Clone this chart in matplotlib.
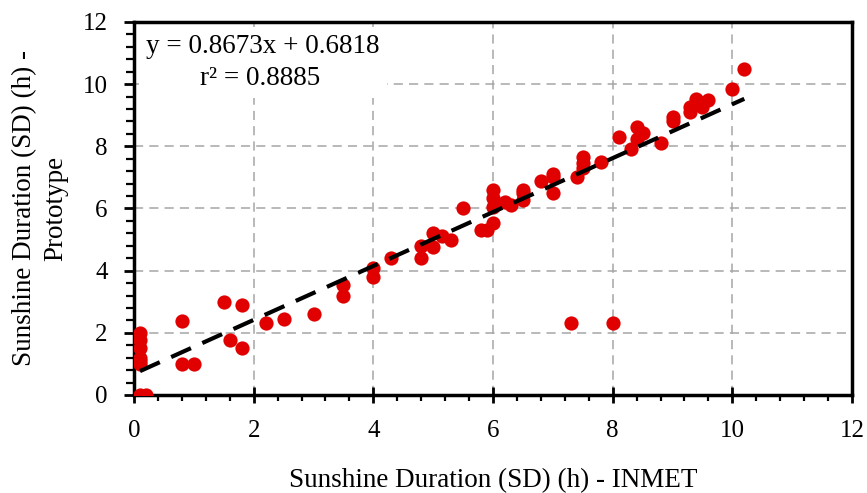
import numpy as np
import matplotlib.pyplot as plt
from matplotlib.ticker import MultipleLocator

# Sunshine duration, INMET (x) vs prototype (y)
inmet = [0.1, 0.2, 0.1, 0.1, 0.1, 0.1, 0.1, 0.1,
         0.8, 0.8, 1.0, 1.5, 1.8, 1.6, 1.8, 2.2, 2.5, 3.0,
         3.5, 3.5, 4.0, 4.0, 4.3, 4.8, 4.8, 5.0, 5.0, 5.15, 5.3,
         5.5, 5.8, 5.9, 6.0, 6.0, 6.0, 6.0, 6.2, 6.3, 6.5, 6.5, 6.5,
         6.8, 7.0, 7.0, 7.0, 7.3, 8.0, 7.4, 7.5, 7.5, 7.5, 7.8,
         8.1, 8.3, 8.4, 8.4, 8.5, 8.8, 9.0, 9.0, 9.3, 9.3, 9.4, 9.5,
         9.6, 9.5, 10.0, 10.2]
prototype = [0.0, 0.0, 1.0, 1.2, 1.5, 1.77, 2.0, 1.1,
             2.38, 1.0, 1.0, 3.0, 2.9, 1.77, 1.5, 2.3, 2.45, 2.6,
             3.2, 3.55, 3.8, 4.08, 4.4, 4.4, 4.8, 4.77, 5.2, 5.1, 5.0,
             6.0, 5.3, 5.3, 5.53, 6.05, 6.33, 6.6, 6.2, 6.1, 6.6, 6.5, 6.27,
             6.9, 6.5, 7.0, 7.1, 2.3, 2.3, 7.0, 7.66, 7.46, 7.3, 7.5,
             8.3, 7.9, 8.62, 8.25, 8.43, 8.1, 8.95, 8.8, 9.1, 9.25, 9.52, 9.27,
             9.5, 9.4, 9.83, 10.5]

slope = 0.8673
intercept = 0.6818
r2 = 0.8885

plt.rcParams['font.family'] = ['Liberation Serif', 'DejaVu Serif']

fig = plt.figure(figsize=(8.67, 4.93), dpi=100)
ax = fig.add_axes([0.1546, 0.1988, 0.8281, 0.7566])

ax.scatter(inmet, prototype, s=105, color='#e00000', zorder=3, linewidths=0)

xfit = np.array([min(inmet), max(inmet)])
ax.plot(xfit, slope * xfit + intercept, color='black', lw=3,
        dashes=(5.2, 3.0), zorder=4)

ax.set_xlim(0, 12)
ax.set_ylim(0, 12)
ax.xaxis.set_major_locator(MultipleLocator(2))
ax.yaxis.set_major_locator(MultipleLocator(2))
ax.xaxis.set_minor_locator(MultipleLocator(0.4))
ax.yaxis.set_minor_locator(MultipleLocator(0.4))
ax.grid(True, which='major', color='#a6a6a6', ls=(0, (6, 4)), lw=1.1)
ax.set_axisbelow(True)

for sp in ax.spines.values():
    sp.set_linewidth(2.5)
ax.tick_params(axis='x', which='major', direction='inout', length=12, width=2)
ax.tick_params(axis='x', which='minor', direction='out', length=4.5, width=1.6)
ax.tick_params(axis='x', which='both', labelsize=18, pad=12)
ax.tick_params(axis='y', which='major', direction='out', length=7, width=2)
ax.tick_params(axis='y', which='minor', direction='out', length=5.5, width=1.6)
ax.tick_params(axis='y', which='both', labelsize=18, pad=12)

ax.set_xlabel('Sunshine Duration (SD) (h) - INMET', fontsize=19.5, labelpad=19)
ax.set_ylabel('Sunshine Duration (SD) (h) -\nPrototype', fontsize=19.5,
              labelpad=10, linespacing=1.35)

ax.text(0.2, 11.6, 'y = 0.8673x + 0.6818\n        r² = %.4f' % r2,
        fontsize=19.5, va='top', ha='left', linespacing=1.35, zorder=2,
        bbox=dict(facecolor='white', edgecolor='none', pad=5))

fig.savefig('out.png', dpi=100)
